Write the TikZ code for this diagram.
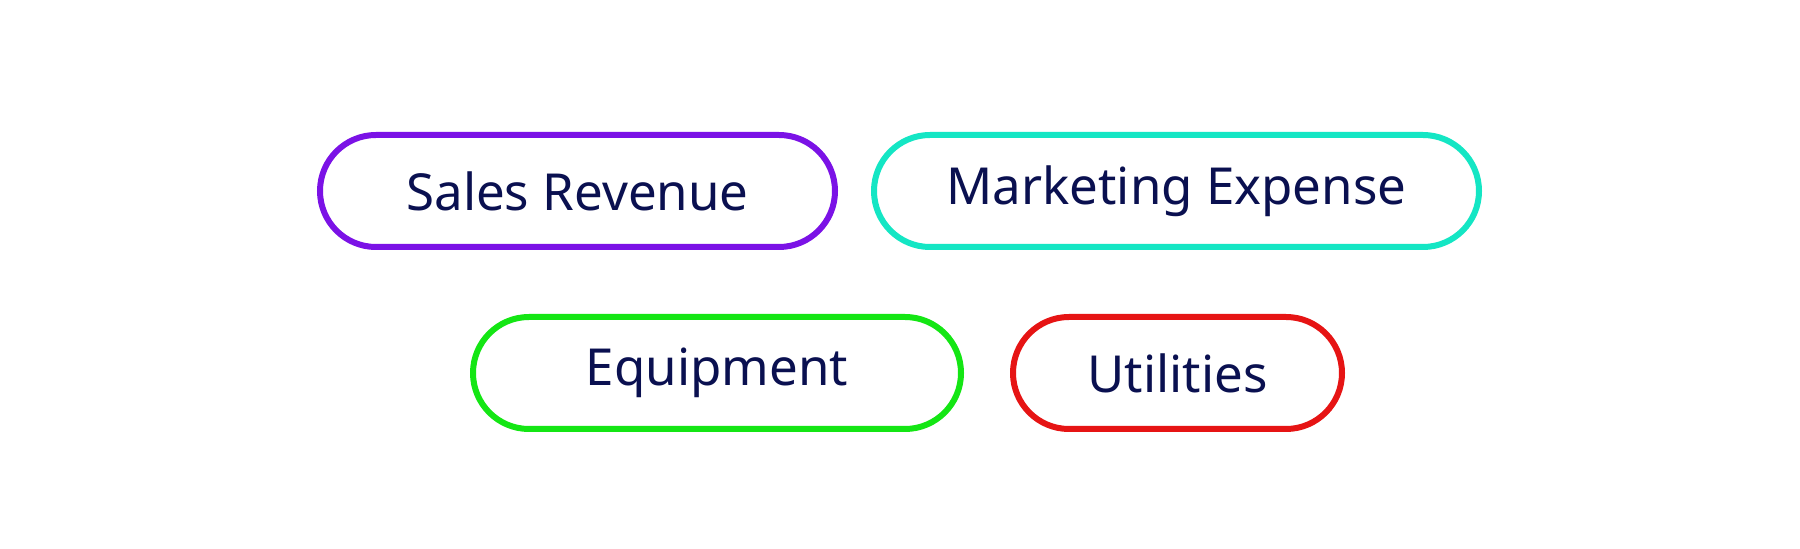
\documentclass[tikz,border=0pt]{standalone}
\usepackage{fontspec}
\setmainfont[Ligatures=NoCommon]{Noto Sans}
\definecolor{txt}{HTML}{0A1050}
\definecolor{cpurple}{HTML}{7B12E6}
\definecolor{cteal}{HTML}{14E6C4}
\definecolor{cgreen}{HTML}{14E614}
\definecolor{cred}{HTML}{E61414}
\begin{document}
\begin{tikzpicture}[x=0.5pt,y=-0.5pt,
  pill/.style={draw=#1, line width=3pt, rectangle, rounded corners=28pt, minimum height=56pt, inner sep=0pt, text=txt, font=\fontsize{25.5}{30}\selectfont}]
\path[use as bounding box, fill=white] (0,0) rectangle (1800,549);
\node[pill=cpurple, minimum width=257.5pt] (sales) at (577.5,191) {Sales Revenue};
\node[pill=cteal, minimum width=302.5pt] (mkt) at (1176.5,191) {Marketing Expense};
\node[pill=cgreen, minimum width=244pt] (equip) at (717,373) {Equipment};
\node[pill=cred, minimum width=164.5pt] (util) at (1177.5,373) {Utilities};
\end{tikzpicture}
\end{document}
